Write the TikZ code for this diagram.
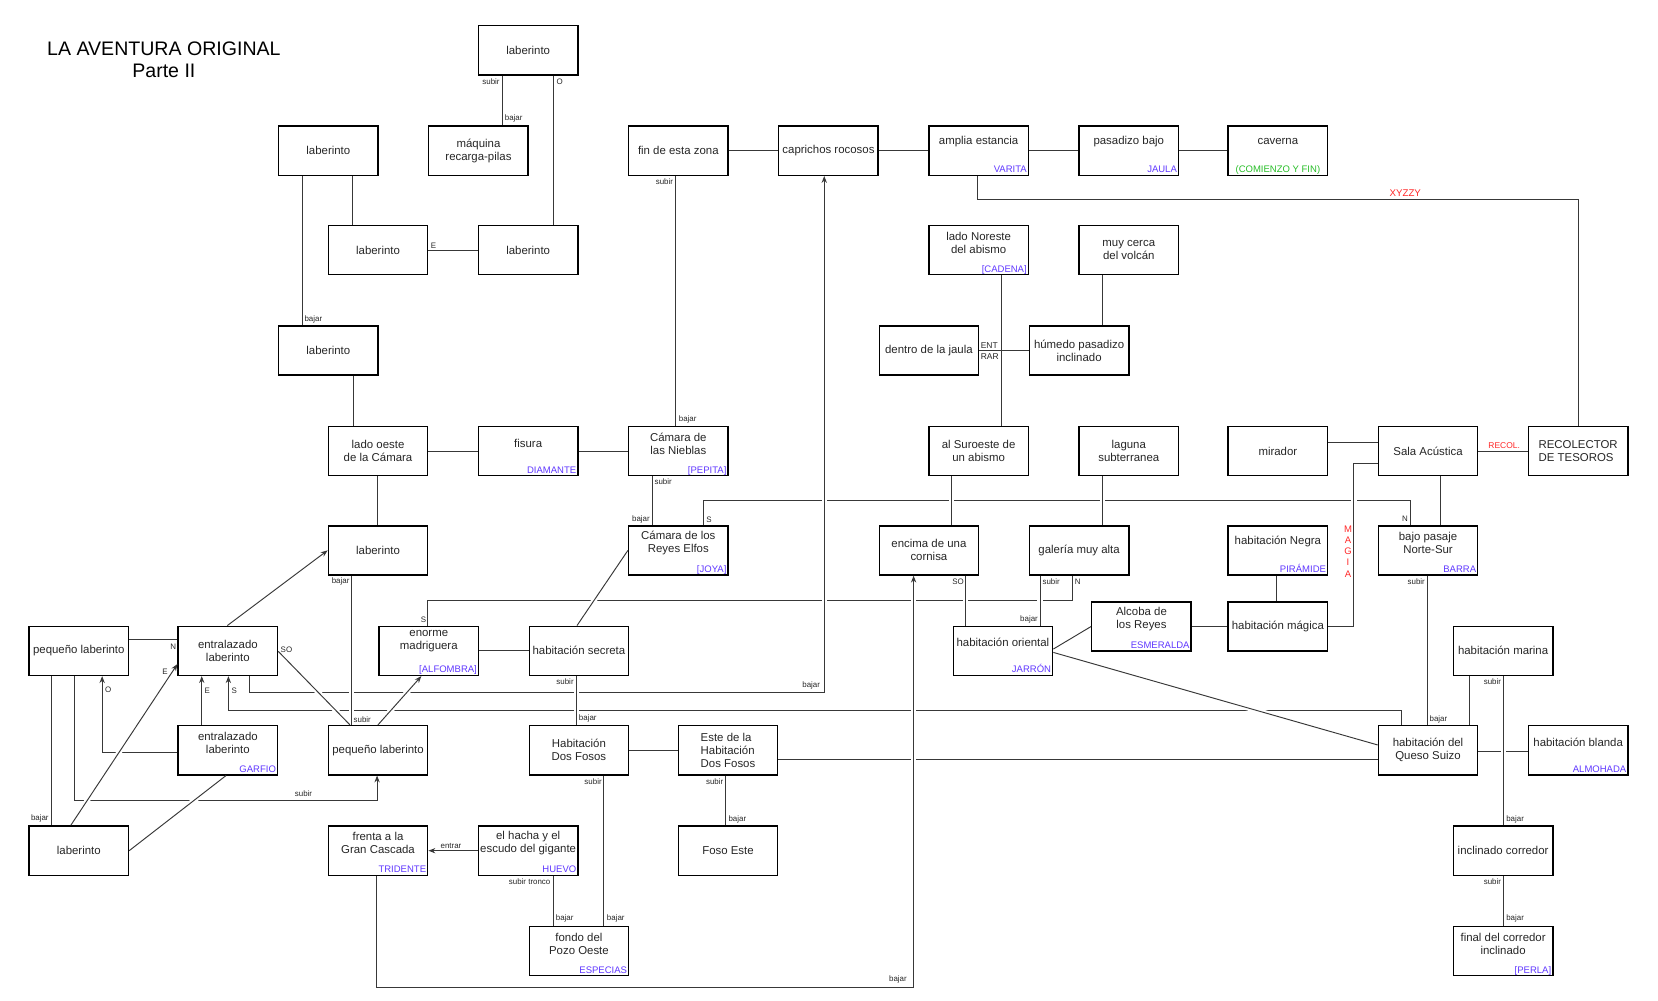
\documentclass[tikz,border=0pt]{standalone}
\usepackage{fontspec}
\setmainfont{Liberation Sans}
\usetikzlibrary{arrows.meta}
\definecolor{ink}{HTML}{262626}
\definecolor{wirecol}{HTML}{383838}
\definecolor{itemblue}{RGB}{95,55,255}
\definecolor{okgreen}{RGB}{40,190,40}
\definecolor{alertred}{RGB}{255,40,40}
\newcommand\myRoomFont{\fontsize{10.8}{12.3}\selectfont}
\newcommand\myItemFont{\fontsize{9}{10}\selectfont}
\newcommand\myTagFont{\fontsize{7.5}{8}\selectfont}
\tikzset{
  room/.style={draw=black, line width=1.35pt, minimum width=94pt, minimum height=46.5pt, inner sep=1pt, align=center, font=\myRoomFont, text=ink},
  roomtext/.style={anchor=center, align=center, font=\myRoomFont, text=ink, inner sep=0pt},
  onel/.style={roomtext, yshift=-15.5pt},
  twol/.style={roomtext, yshift=-17pt},
  itemtext/.style={anchor=base east, xshift=-2pt, yshift=3pt, inner sep=0pt, font=\myItemFont, text=itemblue},
  wire/.style={draw=wirecol, line width=0.9pt},
  arr/.style={-{Stealth[length=6.5pt,width=5pt]}},
  bridge/.style={preaction={draw=white, line width=5pt, arrows=-, shorten <=4pt, shorten >=4pt}},
  tg/.style={font=\myTagFont, text=ink, inner sep=0.3pt},
  redtag/.style={text=alertred, inner sep=0pt},
}
\begin{document}
\begin{tikzpicture}[x=1pt,y=-1pt]
\useasboundingbox (0,0) rectangle (1568,946);

% title
\node[font=\fontsize{18.5}{21.2}\selectfont, align=center, text=black, inner sep=0pt] (title) at (155,56.3) {LA AVENTURA ORIGINAL\\Parte II};

% rooms
\node[room] (lab0) at (499.5,47.5) {laberinto};
\node[room] (lab1a) at (310.5,142.5) {laberinto};
\node[room] (maquina) at (452.5,142.5) {máquina\\recarga-pilas};
\node[room] (fin) at (641.5,142.5) {fin de esta zona};
\node[room] (capr) at (783.5,142.5) {caprichos rocosos};
\node[room, label={[onel]north:amplia estancia}, label={[itemtext]south east:VARITA}] (amplia) at (925.5,142.5) {};
\node[room, label={[onel]north:pasadizo bajo}, label={[itemtext]south east:JAULA}] (pasadizo) at (1067.5,142.5) {};
\node[room, label={[onel]north:caverna}, label={[itemtext,anchor=base,xshift=2pt,yshift=0.5pt,text=okgreen]south:(COMIENZO Y FIN)}] (caverna) at (1208.5,142.5) {};
\node[room] (lab2a) at (357.5,236.5) {laberinto};
\node[room] (lab2b) at (499.5,236.5) {laberinto};
\node[room, label={[twol]north:{lado Noreste\\del abismo}}, label={[itemtext]south east:{[CADENA]}}] (noreste) at (925.5,236.5) {};
\node[room] (volcan) at (1067.5,236.5) {muy cerca\\del volcán};
\node[room] (lab3) at (310.5,331.5) {laberinto};
\node[room] (jaula) at (878.5,331.5) {dentro de la jaula};
\node[room] (humedo) at (1020.5,331.5) {húmedo pasadizo\\inclinado};
\node[room] (oeste) at (357.5,426.5) {lado oeste\\de la Cámara};
\node[room, label={[onel,yshift=-1.5pt]north:fisura}, label={[itemtext]south east:DIAMANTE}] (fisura) at (499.5,426.5) {};
\node[room, label={[twol]north:{Cámara de\\las Nieblas}}, label={[itemtext]south east:{[PEPITA]}}] (nieblas) at (641.5,426.5) {};
\node[room] (suroeste) at (925.5,426.5) {al Suroeste de\\un abismo};
\node[room] (laguna) at (1067.5,426.5) {laguna\\subterranea};
\node[room] (mirador) at (1208.5,426.5) {mirador};
\node[room] (sala) at (1350.5,426.5) {Sala Acústica};
\node[room, align=left] (recol) at (1492.5,426.5) {RECOLECTOR\\DE TESOROS};
\node[room] (lab5) at (357.5,520.5) {laberinto};
\node[room, label={[twol]north:{Cámara de los\\Reyes Elfos}}, label={[itemtext]south east:{[JOYA]}}] (elfos) at (641.5,520.5) {};
\node[room] (cornisa) at (878.5,520.5) {encima de una\\cornisa};
\node[room] (galeria) at (1020.5,520.5) {galería muy alta};
\node[room, label={[onel]north:habitación Negra}, label={[itemtext]south east:PIRÁMIDE}] (negra) at (1208.5,520.5) {};
\node[room, label={[twol]north:{bajo pasaje\\Norte-Sur}}, label={[itemtext]south east:BARRA}] (bajop) at (1350.5,520.5) {};
\node[room] (peq6) at (74.5,615.5) {pequeño laberinto};
\node[room] (entr6) at (215.5,615.5) {entralazado\\laberinto};
\node[room, label={[twol,yshift=2pt]north:{enorme\\madriguera}}, label={[itemtext]south east:{[ALFOMBRA]}}] (madri) at (405.5,615.5) {};
\node[room] (secreta) at (547.5,615.5) {habitación secreta};
\node[room, label={[onel]north:habitación oriental}, label={[itemtext]south east:JARRÓN}] (oriental) at (948.5,615.5) {};
\node[room, label={[twol]north:{Alcoba de\\los Reyes}}, label={[itemtext]south east:ESMERALDA}] (alcoba) at (1079.5,592.5) {};
\node[room] (magica) at (1208.5,592.5) {habitación mágica};
\node[room] (marina) at (1421.5,615.5) {habitación marina};
\node[room, label={[twol]north:{entralazado\\laberinto}}, label={[itemtext]south east:GARFIO}] (entr7) at (215.5,709.5) {};
\node[room] (peq7) at (357.5,709.5) {pequeño laberinto};
\node[room] (dosfosos) at (547.5,709.5) {Habitación\\Dos Fosos};
\node[room, align=left] (este) at (688.5,709.5) {Este de la\\Habitación\\Dos Fosos};
\node[room] (queso) at (1350.5,709.5) {habitación del\\Queso Suizo};
\node[room, label={[onel,yshift=-1pt]north:habitación blanda}, label={[itemtext]south east:ALMOHADA}] (blanda) at (1492.5,709.5) {};
\node[room] (lab8) at (74.5,804.5) {laberinto};
\node[room, label={[twol]north:{frenta a la\\Gran Cascada}}, label={[itemtext]south east:TRIDENTE}] (frenta) at (357.5,804.5) {};
\node[room, label={[twol]north:{el hacha y el\\escudo del gigante}}, label={[itemtext]south east:HUEVO}] (hacha) at (499.5,804.5) {};
\node[room] (fosoeste) at (688.5,804.5) {Foso Este};
\node[room] (inclinado) at (1421.5,804.5) {inclinado corredor};
\node[room, label={[twol]north:{fondo del\\Pozo Oeste}}, label={[itemtext]south east:ESPECIAS}] (fondo) at (547.5,899.5) {};
\node[room, label={[twol]north:{final del corredor\\inclinado}}, label={[itemtext]south east:{[PERLA]}}] (final) at (1421.5,899.5) {};

% plain connectors
\draw[wire] (lab0.south -| 475,0) -- (maquina.north -| 475,0);
\draw[wire] (lab0.south -| 523.7,0) -- (lab2b.north -| 523.7,0);
\draw[wire] (lab1a.south -| 333,0) -- (lab2a.north -| 333,0);
\draw[wire] (lab1a.south -| 285.6,0) -- (lab3.north -| 285.6,0);
\draw[wire] (lab2a) -- (lab2b);
\draw[wire] (lab3.south -| 334,0) -- (oeste.north -| 334,0);
\draw[wire] (oeste) -- (fisura);
\draw[wire] (fisura) -- (nieblas);
\draw[wire] (oeste.south -| 356.7,0) -- (lab5.north -| 356.7,0);
\draw[wire] (fin.south -| 639,0) -- (nieblas.north -| 639,0);
\draw[wire] (fin) -- (capr);
\draw[wire] (capr) -- (amplia);
\draw[wire] (amplia) -- (pasadizo);
\draw[wire] (pasadizo) -- (caverna);
\draw[wire] (amplia.south -| 924.5,0) |- (1100,188.5) -| (recol.north);
\draw[wire] (noreste.south -| 947.4,0) -- (suroeste.north -| 947.4,0);
\draw[wire] (jaula) -- (humedo);
\draw[wire] (volcan.south -| 1043,0) -- (humedo.north -| 1043,0);
\draw[wire] (elfos.north -| 665,0) -- (665,473) -| (bajop.north -| 1334,0);
\draw[wire] (madri.north -| 404.6,0) -- (404.6,568) -| (galeria.south -| 1013.8,0);
\draw[wire,arr] (queso.north -| 1325.5,0) -- (1325.5,671.5) -| (entr6.south -| 216,0);
\draw[wire] (peq6.east |- 0,605) -- (entr6.west |- 0,605);
\draw[wire] (peq6.south -| 48.3,0) -- (lab8.north -| 48.3,0);
\draw[wire,arr] (peq6.south -| 70.3,0) -- (70.3,756.6) -| (peq7.south -| 356.6,0);
\draw[wire,arr] (entr7.west |- 0,711.5) -| (peq6.south -| 96.6,0);
\draw[wire,arr] (entr7.north -| 190.8,0) -- (entr6.south -| 190.8,0);
\draw[wire,arr] (entr6.north -| 215,0) -- (lab5.west);
\draw[wire] (madri) -- (secreta);
\draw[wire] (nieblas.south -| 616.6,0) -- (elfos.north -| 616.6,0);
\draw[wire] (dosfosos) -- (este);
\draw[wire] (dosfosos.south -| 571,0) -- (fondo.north -| 571,0);
\draw[wire] (este.south -| 686.3,0) -- (fosoeste.north -| 686.3,0);
\draw[wire] (este.east |- 0,718.7) -- (queso.west |- 0,718.7);
\draw[wire,arr] (hacha) -- (frenta);
\draw[wire] (hacha.south -| 523.5,0) -- (fondo.north -| 523.5,0);
\draw[wire] (oriental.east |- 0,613.8) -- (alcoba.west);
\draw[wire] (alcoba) -- (magica);
\draw[wire] (negra.south -| 1207,0) -- (magica.north -| 1207,0);
\draw[wire] (mirador.east |- 0,418.6) -- (sala.west |- 0,418.6);
\draw[wire] (sala) -- (recol);
\draw[wire] (sala.south -| 1362,0) -- (bajop.north -| 1362,0);
\draw[wire] (bajop.south -| 1350,0) -- (queso.north -| 1350,0);
\draw[wire] (marina.south -| 1390,0) -- (queso.north -| 1390,0);
\draw[wire] (queso.east |- 0,711) -- (blanda.west |- 0,711);
\draw[wire] (inclinado.south -| 1422,0) -- (final.north -| 1422,0);

% connectors that break the lines they cross
\draw[wire,arr,bridge] (entr6.south -| 236,0) -- (236,655) -| (capr.south -| 779.5,0);
\draw[wire,arr,bridge] (frenta.south -| 355.6,0) -- (355.6,934) -| (cornisa.south -| 864,0);
\draw[wire,bridge] (magica.east) -| (1280.4,438.2) -- (sala.west |- 0,438.2);
\draw[wire,bridge] (lab5.south -| 332.4,0) -- (peq7.north -| 332.4,0);
\draw[wire,bridge] (secreta.south -| 545.5,0) -- (dosfosos.north -| 545.5,0);
\draw[wire,bridge] (cornisa.south -| 913,0) -- (oriental.north -| 913,0);
\draw[wire,bridge] (galeria.south -| 983.6,0) -- (oriental.north -| 983.6,0);
\draw[wire,bridge] (suroeste.south -| 900,0) -- (cornisa.north -| 900,0);
\draw[wire,bridge] (laguna.south -| 1042.5,0) -- (galeria.north -| 1042.5,0);
\draw[wire,bridge] (entr6.east |- 0,616) -- (peq7.north -| 331,0);
\draw[wire,arr,bridge] (peq7.north -| 357.4,0) -- (madri.south -| 398.5,0);
\draw[wire,bridge] (secreta.north -| 545.7,0) -- (elfos.west);
\draw[wire,bridge] (oriental.east |- 0,617) -- (queso.west |- 0,704.5);
\draw[wire,arr,bridge] (lab8.north -| 66.9,0) -- (entr6.west |- 0,628);
\draw[wire,bridge] (lab8.east) -- (entr7.south -| 213.8,0);
\draw[wire,bridge] (marina.south -| 1422,0) -- (inclinado.north -| 1422,0);

% connector labels
\node[tg, anchor=east] (t1) at (473,77) {subir};
\node[tg, anchor=west] (t2) at (477,112) {bajar};
\node[tg, anchor=west] (t3) at (526,77) {O};
\node[tg, anchor=west] (t4) at (407,232.5) {E};
\node[tg, anchor=west] (t5) at (287.5,302) {bajar};
\node[tg, anchor=east] (t6) at (637,171.5) {subir};
\node[tg, anchor=west] (t7) at (641.5,397) {bajar};
\node[tg, redtag, font=\fontsize{9.2}{10}\selectfont] (t8) at (1329,183) {XYZZY};
\node[tg, anchor=west, font=\fontsize{8}{9}\selectfont] (t9) at (927,327) {ENT};
\node[tg, anchor=west, font=\fontsize{8}{9}\selectfont] (t10) at (927,337) {RAR};
\node[tg, redtag, font=\fontsize{8}{9}\selectfont] (t11) at (1422.5,421) {RECOL.};
\node[redtag, align=center, font=\fontsize{9}{10.6}\selectfont] (t12) at (1274.8,521.5) {M\\A\\G\\I\\A};
\node[tg, anchor=west] (t13) at (618.5,455.5) {subir};
\node[tg, anchor=east] (t14) at (615,491) {bajar};
\node[tg, anchor=west] (t15) at (667.5,492) {S};
\node[tg, anchor=east] (t16) at (1332,491) {N};
\node[tg, anchor=east] (t17) at (403.5,586) {S};
\node[tg, anchor=west] (t18) at (1016,550.5) {N};
\node[tg, anchor=east] (t19) at (331,550) {bajar};
\node[tg, anchor=west] (t20) at (334,681) {subir};
\node[tg, anchor=east] (t21) at (543,645) {subir};
\node[tg, anchor=west] (t22) at (547,679.5) {bajar};
\node[tg, anchor=west] (t23) at (265,614.5) {SO};
\node[tg, anchor=east] (t24) at (167,611.5) {N};
\node[tg, anchor=east] (t25) at (159,635) {E};
\node[tg, anchor=west] (t26) at (99,652.6) {O};
\node[tg, anchor=west] (t27) at (193,653) {E};
\node[tg, anchor=west] (t28) at (218.5,653) {S};
\node[tg, anchor=east] (t29) at (776,648.5) {bajar};
\node[tg, anchor=east] (t30) at (46.5,774) {bajar};
\node[tg] (t31) at (287,751) {subir};
\node[tg, anchor=east] (t32) at (569.5,739) {subir};
\node[tg, anchor=west] (t33) at (573.5,869) {bajar};
\node[tg, anchor=east] (t34) at (684.5,739) {subir};
\node[tg, anchor=west] (t35) at (688.5,774.5) {bajar};
\node[tg] (t36) at (426.5,800) {entrar};
\node[tg, anchor=east] (t37) at (521,834) {subir tronco};
\node[tg, anchor=west] (t38) at (525.2,869) {bajar};
\node[tg, anchor=east] (t39) at (858,926) {bajar};
\node[tg, anchor=east] (t40) at (912,550) {SO};
\node[tg, anchor=west] (t41) at (985.5,550) {subir};
\node[tg, anchor=east] (t42) at (982,585.5) {bajar};
\node[tg, anchor=east] (t43) at (1348,550.5) {subir};
\node[tg, anchor=west] (t44) at (1351.5,680) {bajar};
\node[tg, anchor=east] (t45) at (1420,645) {subir};
\node[tg, anchor=west] (t46) at (1424,774.5) {bajar};
\node[tg, anchor=east] (t47) at (1420,834) {subir};
\node[tg, anchor=west] (t48) at (1424,869) {bajar};
\end{tikzpicture}
\end{document}
